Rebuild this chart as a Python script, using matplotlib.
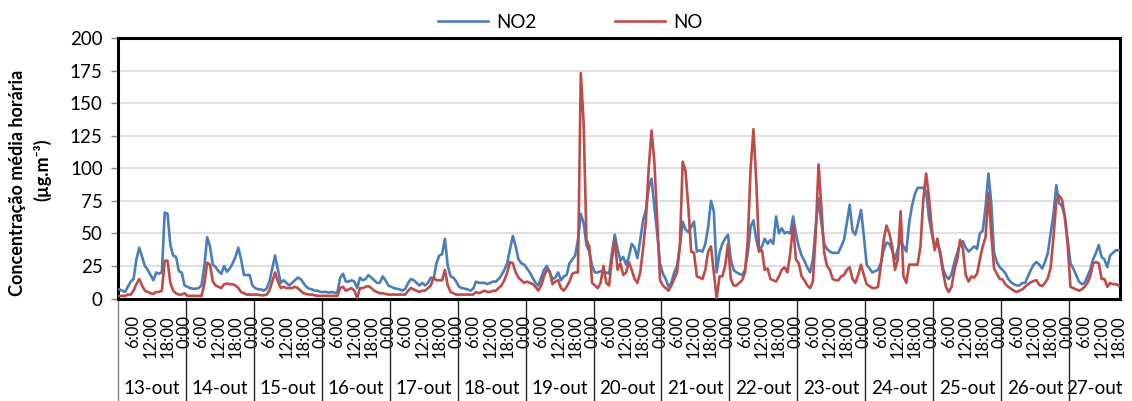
import numpy as np
import matplotlib
matplotlib.use("Agg")
import matplotlib.pyplot as plt
import matplotlib.transforms as mtransforms
from matplotlib.lines import Line2D

# Days on the category axis (the last one is incomplete, up to 18:00)
days = ["13-out", "14-out", "15-out", "16-out", "17-out", "18-out", "19-out",
        "20-out", "21-out", "22-out", "23-out", "24-out", "25-out", "26-out", "27-out"]

# Hour-of-day labels shown on the axis (hour 24 is written as 0:00)
hour_labels = {6: "6:00", 12: "12:00", 18: "18:00", 24: "0:00"}

# Hourly NO2 concentrations (ug/m3), one list per day, hours 1..24
no2_13 = [7, 6, 5, 9, 13, 15, 30, 39, 32, 25, 22, 18, 14, 20, 19, 20, 66, 65, 41, 33, 32, 21, 20, 10]
no2_14 = [9, 8, 7.5, 7.5, 8, 10, 25, 47, 40, 26, 24, 21, 19, 25, 20.5, 23, 27, 32, 39, 30, 18, 18, 18, 10]
no2_15 = [8, 7, 7, 6, 7.5, 13, 23, 33, 22, 12, 14, 12, 10, 12, 14, 16, 15, 12, 9, 7.5, 7, 6, 6, 5]
no2_16 = [5, 5, 4.5, 5, 4.5, 4.5, 16, 19, 13, 13, 14, 13, 8, 16, 14, 15, 18, 16, 14, 12, 12, 17, 14, 10]
no2_17 = [9, 8, 7.5, 7, 6, 7.5, 12, 15, 14, 12, 10, 12, 10, 12, 16, 15, 27, 33, 34, 46, 25, 17, 16, 13]
no2_18 = [9, 8, 7.5, 7, 6, 7.5, 13, 12, 12, 12, 11, 12, 13, 13, 15, 18, 22, 27, 38, 48, 40, 30, 27, 26]
no2_19 = [23, 20, 16, 12, 10, 16, 22, 25, 20, 15, 16, 20, 14, 17, 18, 27, 30, 33, 45, 65, 58, 41, 36, 25]
no2_20 = [20, 20, 21, 20, 20, 19, 35, 49, 38, 29, 32, 26, 32, 42, 39, 31, 45, 60, 68, 85, 92, 70, 50, 27]
no2_21 = [19, 15, 9, 12, 20, 25, 40, 59, 53, 51, 55, 59, 36, 37, 36, 42, 55, 75, 67, 20, 35, 42, 46, 49]
no2_22 = [30, 22, 20, 19, 18, 22, 35, 55, 60, 45, 36, 40, 46, 42, 45, 42, 63, 50, 54, 50, 51, 50, 63, 50]
no2_23 = [40, 33, 29, 24, 20, 30, 55, 77, 58, 42, 38, 36, 35, 35, 35, 40, 45, 58, 72, 52, 49, 58, 68, 48]
no2_24 = [26, 23, 20, 21, 22, 27, 37, 43, 42, 37, 30, 38, 45, 40, 36, 58, 71, 80, 85, 85, 85, 82, 62, 50]
no2_25 = [40, 42, 36, 23, 17, 15, 19, 28, 35, 42, 44, 39, 36, 38, 40, 38, 50, 52, 70, 96, 74, 35, 28, 24]
no2_26 = [22, 19.5, 15, 12.5, 11, 10, 10, 12, 12, 17, 22, 26, 28, 26, 23, 28, 35, 50, 65, 87, 73, 71, 63, 45]
no2_27 = [27, 23, 18, 13, 11, 12, 17, 22, 30, 35, 41, 32, 30, 24, 33, 35, 37, 37]

# Hourly NO concentrations (ug/m3)
no_13 = [2, 2, 2, 3, 3, 6, 11, 15, 10, 6, 5, 4, 3.5, 5, 5, 6, 29, 29, 12, 6, 4, 3, 3, 4]
no_14 = [2, 2, 2, 2, 2, 2, 11, 27.5, 26, 13, 10, 9, 8, 11, 11.5, 11, 11, 10, 8, 5, 4, 3, 3, 3]
no_15 = [3, 3, 2.5, 2.5, 3, 6, 13, 20, 13, 8, 9, 8, 8, 8, 9, 8, 6, 4, 3.5, 3, 3, 2.5, 2, 2]
no_16 = [2, 2, 2, 2, 2, 2, 8, 9, 6, 7, 8, 6, 0.5, 8, 8, 9, 9.5, 8, 6, 5, 4, 4, 3.5, 3]
no_17 = [3, 3, 3, 3, 3, 3, 6, 8, 7, 6, 5, 6, 6, 8, 10, 16, 14, 14, 14, 22, 10, 5, 4, 3]
no_18 = [3, 3, 3, 3, 3, 3, 5, 4, 5, 6, 5, 5, 6, 6, 8, 10, 14, 20, 28, 27, 20, 16, 14, 12]
no_19 = [13, 12, 11, 9, 6, 10, 17, 22, 21, 11, 13, 14, 8, 6, 9, 13, 19, 20, 20, 173, 135, 45, 40, 12]
no_20 = [10, 8, 12, 25, 12, 10, 30, 45, 22, 27, 18, 20, 28, 22, 15, 12, 20, 38, 60, 100, 129, 105, 60, 14]
no_21 = [10, 8, 6, 10, 15, 20, 40, 105, 98, 70, 36, 35, 17, 16, 15, 22, 36, 40, 20, 0, 17, 17, 25, 42]
no_22 = [15, 10, 10, 12, 14, 20, 45, 100, 130, 90, 36, 37, 22, 23, 15, 14, 13, 17, 22, 24, 20, 35, 56, 30]
no_23 = [27, 17, 14, 10, 8, 13, 50, 103, 70, 35, 25, 22, 15, 14, 14, 17, 18, 22, 24, 15, 12, 18, 26, 18]
no_24 = [11, 9.5, 8, 8, 9, 25, 45, 56, 50, 40, 22, 30, 67, 17, 12, 26, 26, 26, 26, 40, 76, 96, 78, 54]
no_25 = [37, 46, 33, 20, 9, 5, 9, 22, 30, 45, 38, 18, 13, 17, 16, 19, 30, 40, 47, 81, 50, 23, 19, 15]
no_26 = [14.6, 11, 9, 7.5, 6, 5, 6, 7, 9, 11, 12.5, 13.5, 14, 10.5, 9.5, 12, 15.5, 23.6, 47, 75, 79, 76, 63, 42]
no_27 = [9, 8, 7, 6, 7, 9, 12, 17, 27, 28, 27, 15, 15, 9, 12, 11, 11, 10]

no2_days = [no2_13, no2_14, no2_15, no2_16, no2_17, no2_18, no2_19, no2_20,
            no2_21, no2_22, no2_23, no2_24, no2_25, no2_26, no2_27]
no_days = [no_13, no_14, no_15, no_16, no_17, no_18, no_19, no_20,
           no_21, no_22, no_23, no_24, no_25, no_26, no_27]

no2 = np.concatenate([np.asarray(d, float) for d in no2_days])
no = np.concatenate([np.asarray(d, float) for d in no_days])
day_lengths = [len(d) for d in no2_days]
n = len(no2)

plt.rcParams["font.family"] = ["Lato", "DejaVu Sans"]

W, H = 1132, 401
fig = plt.figure(figsize=(W / 100, H / 100), dpi=100)
left, right, top, bottom = 118, 1120, 38, 298.5
ax = fig.add_axes([left / W, 1 - bottom / H, (right - left) / W, (bottom - top) / H])

x = np.arange(n) + 0.5
ax.plot(x, no2, color="#4A7EBB", lw=1.9, solid_joinstyle="round", label="NO2", zorder=3)
ax.plot(x, no, color="#BE4B48", lw=1.9, solid_joinstyle="round", label="NO", zorder=3)

ax.set_xlim(0, n)
ax.set_ylim(0, 200)
ax.set_yticks(np.arange(0, 201, 25))
ax.grid(axis="y", color="#D9D9D9", lw=1.2)
ax.set_axisbelow(True)
ax.tick_params(axis="y", length=5, width=1, color="#868686", pad=6, labelsize=13.5)

# hour-of-day labels, rotated, under each category
tick_pos, tick_txt = [], []
start = 0
for L in day_lengths:
    for h in range(1, L + 1):
        if h in hour_labels:
            tick_pos.append(start + h - 0.5)
            tick_txt.append(hour_labels[h])
    start += L
ax.set_xticks(tick_pos)
ax.set_xticklabels(tick_txt, rotation=90, fontsize=12)
ax.tick_params(axis="x", length=0, pad=12)

for s in ax.spines.values():
    s.set_color("black")
    s.set_linewidth(2.2)

# day group separators and labels below the hour labels
trans = mtransforms.blended_transform_factory(ax.transData, ax.transAxes)
ax_h = bottom - top
y_low = -(H - bottom) / ax_h
bounds = np.concatenate([[0], np.cumsum(day_lengths)])
for i, b in enumerate(bounds[:-1]):
    ax.add_line(Line2D([b, b], [0, y_low], transform=trans, clip_on=False,
                       color="#7F7F7F" if i == 0 else "#262626", lw=1.0))
for i, d in enumerate(days):
    ax.text((bounds[i] + bounds[i + 1]) / 2, -(388 - bottom) / ax_h, d,
            transform=trans, ha="center", va="center", fontsize=13.5)

# legend above the plot
leg = fig.legend(loc="center", bbox_to_anchor=(570 / W, 1 - 22 / H), ncol=2,
                 frameon=False, fontsize=13.5, handlelength=2.7,
                 handletextpad=0.4, columnspacing=4.2)

# y axis title
fig.text(18 / W, 1 - 183 / H, "Concentração média horária", rotation=90,
         ha="center", va="center", fontsize=13, fontweight="bold")
fig.text(42 / W, 1 - 170 / H, "(µg.m⁻³)", rotation=90,
         ha="center", va="center", fontsize=13, fontweight="bold")

fig.savefig("out.png", dpi=100)
